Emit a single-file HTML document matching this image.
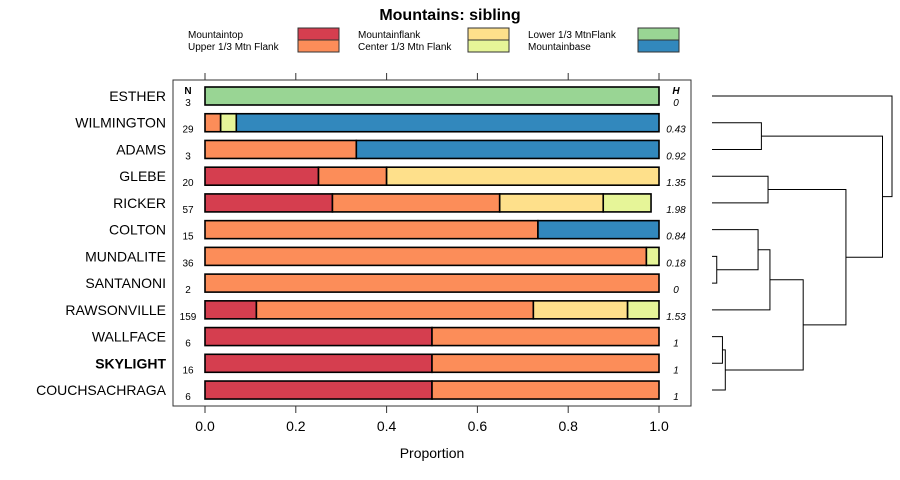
<!DOCTYPE html>
<html><head><meta charset="utf-8"><style>
html,body{margin:0;padding:0;background:#fff;}
svg{display:block;font-family:"Liberation Sans",sans-serif;}
</style></head><body>
<svg id="chart" width="900" height="480" viewBox="0 0 900 480">
<text x="450" y="20" text-anchor="middle" font-size="16" font-weight="bold">Mountains: sibling</text>
<g id="legend"></g>
<rect x="173" y="80" width="518" height="326" fill="none" stroke="#333" stroke-width="1"/>
<g id="bars"></g>
<g id="axis"></g>
<text x="432" y="458" text-anchor="middle" font-size="14">Proportion</text>
<text x="188" y="94" text-anchor="middle" font-size="10" font-weight="bold">N</text>
<text x="676" y="94" text-anchor="middle" font-size="10" font-weight="bold" font-style="italic">H</text>
<g id="dendro"></g>
</svg>
<script>
const categories = ["ESTHER","WILMINGTON","ADAMS","GLEBE","RICKER","COLTON","MUNDALITE","SANTANONI","RAWSONVILLE","WALLFACE","SKYLIGHT","COUCHSACHRAGA"];
const nValues = [3,29,3,20,57,15,36,2,159,6,16,6];
const hValues = ["0","0.43","0.92","1.35","1.98","0.84","0.18","0","1.53","1","1","1"];
const seriesNames = ["Mountaintop","Upper 1/3 Mtn Flank","Mountainflank","Center 1/3 Mtn Flank","Lower 1/3 MtnFlank","Mountainbase"];
const seriesColors = ["#d53e4f","#fc8d59","#fee08b","#e6f598","#99d594","#3288bd"];
const mountaintop = [0,0,0,5,16,0,0,0,18,3,8,3];
const upperFlank  = [0,1,1,3,21,11,35,2,97,3,8,3];
const mountainflank = [0,0,0,12,13,0,0,0,33,0,0,0];
const centerFlank = [0,1,0,0,6,0,1,0,11,0,0,0];
const lowerFlank  = [3,0,0,0,0,0,0,0,0,0,0,0];
const mountainbase = [0,27,2,0,0,4,0,0,0,0,0,0];
const xTicks = [0,0.2,0.4,0.6,0.8,1.0];
const xTickLabels = ["0.0","0.2","0.4","0.6","0.8","1.0"];
// dendrogram merges (negative = leaf index, positive = earlier merge number, 1-based)
const mergeLeft  = [-7,-10,-2,-4,-6,5,2,6,4,3,-1];
const mergeRight = [-8,-11,-3,-5,1,-9,-12,7,8,9,10];
const mergeHeight= [1,2.2,10.4,11.8,9.7,12.2,2.8,19.2,28.2,35.9,37.9];

const NS="http://www.w3.org/2000/svg";
const x0=205, x1=659, rowTop=96, rowStep=26.73, barH=18;
const xScale=v=>x0+(x1-x0)*v;
const yScale=i=>rowTop+i*rowStep;
function mk(tag,attrs,parent){const e=document.createElementNS(NS,tag);for(const k in attrs)e.setAttribute(k,attrs[k]);parent.appendChild(e);return e;}

const lg=document.getElementById('legend');
seriesNames.forEach((s,i)=>{
  const col=Math.floor(i/2), row=i%2;
  const lx=188+col*170, ly=38+row*12;
  const t=mk('text',{x:lx,y:ly,'font-size':10},lg);
  t.textContent=s;
  
  
  const r=mk('rect',{x:lx+110,y:ly-10,width:41,height:12,fill:seriesColors[i],stroke:'#333','stroke-width':1},lg);
  
  
});

const bars=document.getElementById('bars');
const series=[mountaintop,upperFlank,mountainflank,centerFlank,lowerFlank,mountainbase];
categories.forEach((c,i)=>{
  const cy=yScale(i);
  const lab=mk('text',{x:166,y:cy+5,'text-anchor':'end','font-size':14,'font-weight':c==='SKYLIGHT'?'bold':'normal'},bars);
  lab.textContent=c;
  
  
  const nt=mk('text',{x:188,y:cy+10,'text-anchor':'middle','font-size':10},bars);
  nt.textContent=nValues[i];
  
  
  const ht=mk('text',{x:676,y:cy+10,'text-anchor':'middle','font-size':10,'font-style':'italic'},bars);
  ht.textContent=hValues[i];
  
  
  let cum=0;
  series.forEach((arr,k)=>{
    const v=arr[i]/nValues[i];
    if(v<=0)return;
    const r=mk('rect',{x:xScale(cum),y:cy-barH/2,width:xScale(cum+v)-xScale(cum),height:barH,fill:seriesColors[k],stroke:'#000','stroke-width':1.6},bars);
    
    
    cum+=v;
  });
});

const ax=document.getElementById('axis');
xTicks.forEach((t,i)=>{
  const x=xScale(t);
  mk('line',{x1:x,x2:x,y1:406,y2:413,stroke:'#333'},ax);
  mk('line',{x1:x,x2:x,y1:73,y2:80,stroke:'#333'},ax);
  const tl=mk('text',{x:x,y:431,'text-anchor':'middle','font-size':14},ax);
  tl.textContent=xTickLabels[i];
  
  
});

const dg=document.getElementById('dendro');
const leafX=712, hScale=(892-712)/37.9;
const nodes=[];
function pos(ref){ if(ref<0) return {x:leafX,y:yScale(-ref-1)}; return nodes[ref-1]; }
mergeLeft.forEach((l,i)=>{
  const a=pos(l), b=pos(mergeRight[i]);
  const hx=leafX+mergeHeight[i]*hScale;
  const p=mk('path',{d:`M${a.x},${a.y}H${hx}V${b.y}H${b.x}`,fill:'none',stroke:'#000','stroke-width':1},dg);
  
  
  nodes.push({x:hx,y:(a.y+b.y)/2});
});
</script>
</body></html>
